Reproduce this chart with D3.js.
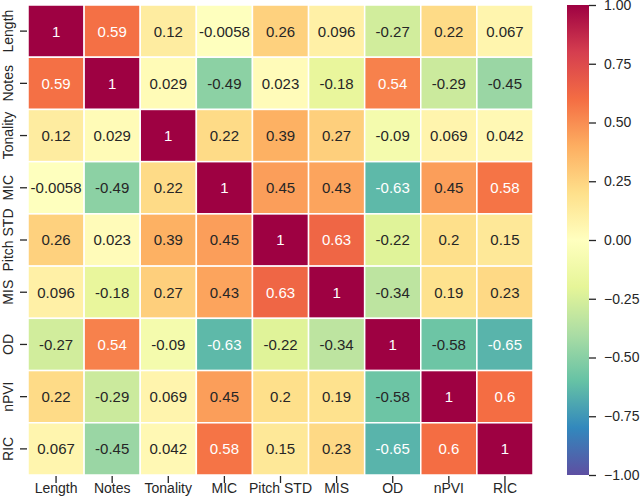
<!DOCTYPE html>
<html>
<head>
<meta charset="utf-8">
<script src="https://cdn.jsdelivr.net/npm/d3@7"></script>
<style>
  body { margin: 0; background: #fff; }
  text { font-family: "Liberation Sans", Arial, sans-serif; }
</style>
</head>
<body>
<div id="chart"></div>
<script>
// labels for both axes
var features = ['Length', 'Notes', 'Tonality', 'MIC', 'Pitch STD', 'MIS', 'OD', 'nPVI', 'RIC'];

// correlation matrix rows
var rowLength   = [1, 0.59, 0.12, -0.0058, 0.26, 0.096, -0.27, 0.22, 0.067];
var rowNotes    = [0.59, 1, 0.029, -0.49, 0.023, -0.18, 0.54, -0.29, -0.45];
var rowTonality = [0.12, 0.029, 1, 0.22, 0.39, 0.27, -0.09, 0.069, 0.042];
var rowMIC      = [-0.0058, -0.49, 0.22, 1, 0.45, 0.43, -0.63, 0.45, 0.58];
var rowPitchSTD = [0.26, 0.023, 0.39, 0.45, 1, 0.63, -0.22, 0.2, 0.15];
var rowMIS      = [0.096, -0.18, 0.27, 0.43, 0.63, 1, -0.34, 0.19, 0.23];
var rowOD       = [-0.27, 0.54, -0.09, -0.63, -0.22, -0.34, 1, -0.58, -0.65];
var rowNPVI     = [0.22, -0.29, 0.069, 0.45, 0.2, 0.19, -0.58, 1, 0.6];
var rowRIC      = [0.067, -0.45, 0.042, 0.58, 0.15, 0.23, -0.65, 0.6, 1];
var matrix = [rowLength, rowNotes, rowTonality, rowMIC, rowPitchSTD, rowMIS, rowOD, rowNPVI, rowRIC];

var cbarTicks = [-1, -0.75, -0.5, -0.25, 0, 0.25, 0.5, 0.75, 1];

// Spectral_r (ColorBrewer 11 stops, reversed, linear like matplotlib)
var spectral = ['#9e0142', '#d53e4f', '#f46d43', '#fdae61', '#fee08b', '#ffffbf',
                '#e6f598', '#abdda4', '#66c2a5', '#3288bd', '#5e4fa2'].reverse();

var width = 640;
var height = 499;
// note: "top" is a reserved window property, so use map* names
var mapLeft = 28, mapRight = 533, mapTop = 5, mapBottom = 475;
var cbarX = 567, cbarW = 22;
var fontSize = 14;
var annotSize = 15;
var textDark = '#262626';

var color = d3.scaleLinear()
    .domain(d3.range(11).map(function(i) { return -1 + i * 0.2; }))
    .range(spectral)
    .interpolate(d3.interpolateRgb)
    .clamp(true);

var x = d3.scaleBand().domain(features).range([mapLeft, mapRight]);
var y = d3.scaleBand().domain(features).range([mapTop, mapBottom]);

// annotations use plain hyphen, like python's .2g
var fmt = d3.formatLocale({decimal: '.', thousands: ',', grouping: [3], currency: ['', ''], minus: '-'}).format('.2~g');

function luminance(c) {
  var rgb = d3.rgb(c);
  var lin = [rgb.r, rgb.g, rgb.b].map(function(v) {
    v = v / 255;
    return v <= 0.03928 ? v / 12.92 : Math.pow((v + 0.055) / 1.055, 2.4);
  });
  return 0.2126 * lin[0] + 0.7152 * lin[1] + 0.0722 * lin[2];
}

var svg = d3.select('#chart')
  .append('svg')
    .attr('width', width)
    .attr('height', height);

var cells = [];
matrix.forEach(function(row, i) {
  row.forEach(function(v, j) {
    cells.push({row: features[i], col: features[j], value: v});
  });
});

// CELLS
svg.append('g').selectAll('rect')
  .data(cells)
  .enter()
  .append('rect')
    .attr('x', function(d) { return x(d.col); })
    .attr('y', function(d) { return y(d.row); })
    .attr('width', x.bandwidth())
    .attr('height', y.bandwidth())
    .attr('fill', function(d) { return color(d.value); })
    .attr('stroke', 'white')
    .attr('stroke-width', 1.5);

svg.append('g').selectAll('text')
  .data(cells)
  .enter()
  .append('text')
    .attr('x', function(d) { return x(d.col) + x.bandwidth() / 2; })
    .attr('y', function(d) { return y(d.row) + y.bandwidth() / 2; })
    .attr('dy', '0.36em')
    .attr('text-anchor', 'middle')
    .style('font-size', annotSize + 'px')
    .attr('fill', function(d) { return luminance(color(d.value)) > 0.408 ? textDark : 'white'; })
    .text(function(d) { return fmt(d.value); });

// X AXIS (labels first, ticks drawn over them)
var xAxis = svg.append('g');
xAxis.selectAll('text')
  .data(features)
  .enter()
  .append('text')
    .attr('x', function(d) { return x(d) + x.bandwidth() / 2; })
    .attr('y', mapBottom + 18)
    .attr('text-anchor', 'middle')
    .style('font-size', fontSize + 'px')
    .attr('fill', textDark)
    .text(function(d) { return d; });
xAxis.selectAll('line')
  .data(features)
  .enter()
  .append('line')
    .attr('x1', function(d) { return x(d) + x.bandwidth() / 2; })
    .attr('x2', function(d) { return x(d) + x.bandwidth() / 2; })
    .attr('y1', mapBottom + 1)
    .attr('y2', mapBottom + 8)
    .attr('stroke', textDark)
    .attr('stroke-width', 1.3);

// Y AXIS
var yAxis = svg.append('g');
yAxis.selectAll('line')
  .data(features)
  .enter()
  .append('line')
    .attr('x1', mapLeft - 8)
    .attr('x2', mapLeft - 1)
    .attr('y1', function(d) { return y(d) + y.bandwidth() / 2; })
    .attr('y2', function(d) { return y(d) + y.bandwidth() / 2; })
    .attr('stroke', textDark)
    .attr('stroke-width', 1.3);
yAxis.selectAll('text')
  .data(features)
  .enter()
  .append('text')
    .attr('transform', function(d) {
      return 'translate(' + 13 + ',' + (y(d) + y.bandwidth() / 2) + ') rotate(-90)';
    })
    .attr('text-anchor', 'middle')
    .style('font-size', fontSize + 'px')
    .attr('fill', textDark)
    .text(function(d) { return d; });

// COLORBAR
var grad = svg.append('defs').append('linearGradient')
    .attr('id', 'cbar')
    .attr('x1', 0).attr('y1', 1).attr('x2', 0).attr('y2', 0);
grad.selectAll('stop')
  .data(spectral)
  .enter()
  .append('stop')
    .attr('offset', function(d, i) { return i / 10; })
    .attr('stop-color', function(d) { return d; });

svg.append('rect')
    .attr('x', cbarX)
    .attr('y', mapTop)
    .attr('width', cbarW)
    .attr('height', mapBottom - mapTop)
    .attr('fill', 'url(#cbar)');

var cScale = d3.scaleLinear().domain([-1, 1]).range([mapBottom, mapTop]);
var cAxis = svg.append('g')
    .attr('transform', 'translate(' + (cbarX + cbarW) + ',0)')
    .call(d3.axisRight(cScale).tickValues(cbarTicks).tickFormat(d3.format('.2f')).tickSize(7).tickPadding(8));
cAxis.select('.domain').remove();
cAxis.selectAll('line').attr('stroke', textDark).attr('stroke-width', 1.3);
cAxis.selectAll('text')
    .style('font-size', fontSize + 'px')
    .style('font-family', '"Liberation Sans", Arial, sans-serif')
    .attr('fill', textDark);
</script>
</body>
</html>
